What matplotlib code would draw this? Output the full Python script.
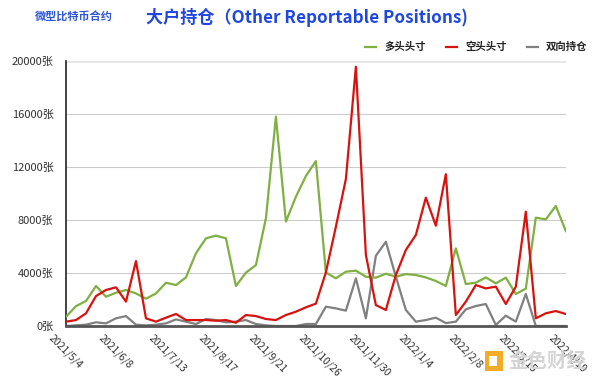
import matplotlib
matplotlib.use("Agg")
import matplotlib.pyplot as plt
import matplotlib.transforms as mtransforms
from matplotlib.patches import Rectangle
import numpy as np

plt.rcParams['font.family'] = ['Noto Sans CJK SC', 'DejaVu Sans']

tick_labels = ["2021/5/4", "2021/6/8", "2021/7/13", "2021/8/17", "2021/9/21",
               "2021/10/26", "2021/11/30", "2022/1/4", "2022/2/8", "2022/3/15", "2022/4/19"]

long_pos = [700, 1500, 1890, 3020, 2210, 2510, 2720, 2460, 2060, 2460,
            3270, 3090, 3670, 5490, 6620, 6820, 6620, 3020, 4030, 4600,
            8130, 15800, 7880, 9760, 11320, 12450, 4030, 3600, 4100, 4180,
            3720, 3650, 3950, 3720, 3920, 3850, 3670, 3400, 3020, 5860,
            3170, 3270, 3670, 3220, 3650, 2420, 2820, 8180, 8050, 9060, 7170]

short_pos = [330, 450, 960, 2260, 2720, 2920, 1840, 4900, 580, 330,
             630, 910, 450, 450, 450, 400, 450, 250, 830, 750,
             530, 450, 830, 1080, 1410, 1690, 4050, 7500, 11100, 19570,
             5360, 1580, 1210, 3850, 5740, 6870, 9690, 7570, 11460, 830,
             1840, 3090, 2840, 2970, 1660, 2970, 8630, 580, 960, 1130, 910]

spread_pos = [0, 50, 100, 280, 200, 580, 750, 100, 50, 100,
              200, 500, 330, 150, 530, 450, 280, 330, 450, 150,
              50, 0, 0, 0, 150, 150, 1460, 1330, 1160, 3600,
              580, 5300, 6360, 3720, 1210, 330, 450, 630, 220, 330,
              1260, 1510, 1660, 80, 780, 330, 2420, 0, 0, 0, 0]

yticks = [0, 4000, 8000, 12000, 16000, 20000]

x = np.arange(len(long_pos))

fig = plt.figure(figsize=(6, 3.84), dpi=100)
ax = fig.add_axes([0.11, 0.151, 0.833, 0.690])

ax.plot(x, long_pos, color='#7fb041', lw=1.6, label='多头头寸', zorder=3)
ax.plot(x, short_pos, color='#d7130f', lw=1.6, label='空头头寸', zorder=4)
ax.plot(x, spread_pos, color='#808080', lw=1.6, label='双向持仓', zorder=2)

ax.set_xlim(0, len(x) - 1)
ax.set_ylim(0, 20000)
ax.set_yticks(yticks)
ax.set_yticklabels([f"{v}张" for v in yticks], fontsize=8, color='#333333')
ax.set_xticks(np.arange(0, len(x), 5))
ax.set_xticklabels(tick_labels, rotation=-45, ha='left', va='top',
                   rotation_mode='anchor', fontsize=7.5, color='#333333')
ax.tick_params(axis='y', length=0, pad=9)
ax.tick_params(axis='x', length=0, pad=5)
offset = mtransforms.ScaledTranslation(-0.12, 0, fig.dpi_scale_trans)
for lab in ax.get_xticklabels():
    lab.set_transform(lab.get_transform() + offset)

ax.grid(axis='y', color='#cccccc', lw=0.8)
ax.set_axisbelow(True)
for s in ['top', 'right']:
    ax.spines[s].set_visible(False)
ax.spines['left'].set_color('#222222')
ax.spines['left'].set_linewidth(1.2)
ax.spines['bottom'].set_color('#555555')
ax.spines['bottom'].set_linewidth(2)
ax.axhline(20000, color='#e6e6e6', lw=2, zorder=1)

leg = fig.legend(loc='upper right', bbox_to_anchor=(0.995, 0.915), ncol=3,
                 frameon=False, fontsize=7.5, handlelength=1.0,
                 handletextpad=0.8, columnspacing=2.0)
for t in leg.get_texts():
    t.set_fontweight('bold')
    t.set_color('#222222')

fig.text(0.058, 0.955, '微型比特币合约', fontsize=8, color='#2f55d4',
         fontweight='bold', va='center')
fig.text(0.243, 0.955, '大户持仓（Other Reportable Positions)', fontsize=12.3,
         color='#1f46e0', fontweight='bold', va='center')

# watermark
fig.patches.append(Rectangle((0.808, 0.035), 0.030, 0.05, transform=fig.transFigure,
                             facecolor='#f2a81d', edgecolor='none', alpha=0.95))
fig.patches.append(Rectangle((0.815, 0.048), 0.014, 0.025, transform=fig.transFigure,
                             facecolor='white', edgecolor='none'))
fig.text(0.848, 0.058, '金色财经', fontsize=14, color='#d4d4d4',
         fontweight='bold', va='center')

fig.savefig('out.png', dpi=100)
